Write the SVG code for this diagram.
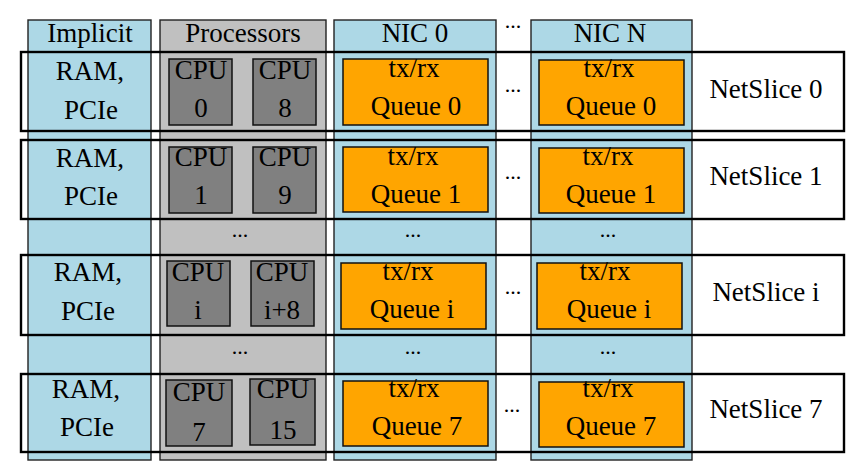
<svg xmlns="http://www.w3.org/2000/svg" width="865" height="474" viewBox="0 0 865 474">
<style>
text{font-family:"Liberation Serif","Times New Roman",serif;font-size:27px;fill:#000;text-anchor:middle}
.dots{font-size:22px}
.col{stroke:#222;stroke-width:1.4}
.blue{fill:#add8e6}
.gray{fill:#c0c0c0}
.cpu{fill:#808080;stroke:#111;stroke-width:1.5}
.q{fill:#ffa500;stroke:#111;stroke-width:1.5}
.slice{fill:none;stroke:#000;stroke-width:2.4}
</style>
<rect width="865" height="474" fill="#fff"/>
<g id="col-implicit">
<rect class="col blue" x="28" y="20" width="123" height="440"/>
<text x="90" y="42">Implicit</text>
</g>
<g id="col-processors">
<rect class="col gray" x="160" y="20" width="166" height="440"/>
<text x="243" y="42">Processors</text>
<text class="dots" x="240" y="236.5">...</text>
<text class="dots" x="240" y="353.5">...</text>
</g>
<g id="col-nic0">
<rect class="col blue" x="334" y="20" width="162" height="440"/>
<text x="415" y="42">NIC 0</text>
<text class="dots" x="413" y="236.5">...</text>
<text class="dots" x="413" y="353.5">...</text>
</g>
<g id="col-nicN">
<rect class="col blue" x="531" y="20" width="161" height="440"/>
<text x="610" y="42">NIC N</text>
<text class="dots" x="608" y="236.5">...</text>
<text class="dots" x="608" y="353.5">...</text>
</g>
<text class="dots" x="513" y="27.5">...</text>
<g id="slice0">
<text x="90" y="80">RAM,</text>
<text x="91" y="119">PCIe</text>
<rect class="cpu" x="169" y="59" width="63" height="66"/>
<text x="201" y="79">CPU</text><text x="201" y="117">0</text>
<rect class="cpu" x="253" y="59" width="63" height="66"/>
<text x="285" y="79">CPU</text><text x="285" y="117">8</text>
<rect class="q" x="343" y="59" width="145" height="66"/>
<text x="414" y="77">tx/rx</text><text x="416" y="115">Queue 0</text>
<rect class="q" x="539" y="60" width="145" height="65"/>
<text x="609" y="77">tx/rx</text><text x="611" y="115">Queue 0</text>
<text class="dots" x="513" y="91.5">...</text>
<rect class="slice" x="21" y="52" width="823" height="79"/>
<text x="766" y="98">NetSlice 0</text>
</g>
<g id="slice1">
<text x="90" y="167">RAM,</text>
<text x="91" y="205">PCIe</text>
<rect class="cpu" x="169" y="147" width="63" height="66"/>
<text x="201" y="166">CPU</text><text x="201" y="204">1</text>
<rect class="cpu" x="253" y="147" width="63" height="66"/>
<text x="285" y="166">CPU</text><text x="285" y="204">9</text>
<rect class="q" x="343" y="147" width="145" height="65"/>
<text x="413" y="165">tx/rx</text><text x="416" y="203">Queue 1</text>
<rect class="q" x="539" y="148" width="145" height="65"/>
<text x="608" y="165">tx/rx</text><text x="611" y="203">Queue 1</text>
<text class="dots" x="513" y="178.5">...</text>
<rect class="slice" x="21" y="140" width="823" height="79"/>
<text x="766" y="185">NetSlice 1</text>
</g>
<g id="slicei">
<text x="88" y="281">RAM,</text>
<text x="88" y="320">PCIe</text>
<rect class="cpu" x="167" y="261" width="63" height="65"/>
<text x="198" y="281">CPU</text><text x="198" y="319">i</text>
<rect class="cpu" x="251" y="261" width="63" height="65"/>
<text x="282" y="281">CPU</text><text x="282" y="319">i+8</text>
<rect class="q" x="341" y="263" width="145" height="66"/>
<text x="408" y="280">tx/rx</text><text x="412" y="318">Queue i</text>
<rect class="q" x="537" y="263" width="145" height="66"/>
<text x="605" y="280">tx/rx</text><text x="609" y="318">Queue i</text>
<text class="dots" x="513" y="293.5">...</text>
<rect class="slice" x="21" y="255" width="823" height="80"/>
<text x="766" y="301">NetSlice i</text>
</g>
<g id="slice7">
<text x="86" y="398">RAM,</text>
<text x="87" y="436">PCIe</text>
<rect class="cpu" x="166" y="380" width="66" height="66"/>
<text x="199" y="401">CPU</text><text x="199" y="441">7</text>
<rect class="cpu" x="250" y="379" width="65" height="66"/>
<text x="283" y="398">CPU</text><text x="283" y="439">15</text>
<rect class="q" x="343" y="381" width="145" height="65"/>
<text x="414" y="397">tx/rx</text><text x="417" y="435">Queue 7</text>
<rect class="q" x="539" y="382" width="145" height="65"/>
<text x="608" y="397">tx/rx</text><text x="611" y="435">Queue 7</text>
<text class="dots" x="512" y="411.5">...</text>
<rect class="slice" x="21" y="374" width="823" height="78"/>
<text x="766" y="418">NetSlice 7</text>
</g>
</svg>
